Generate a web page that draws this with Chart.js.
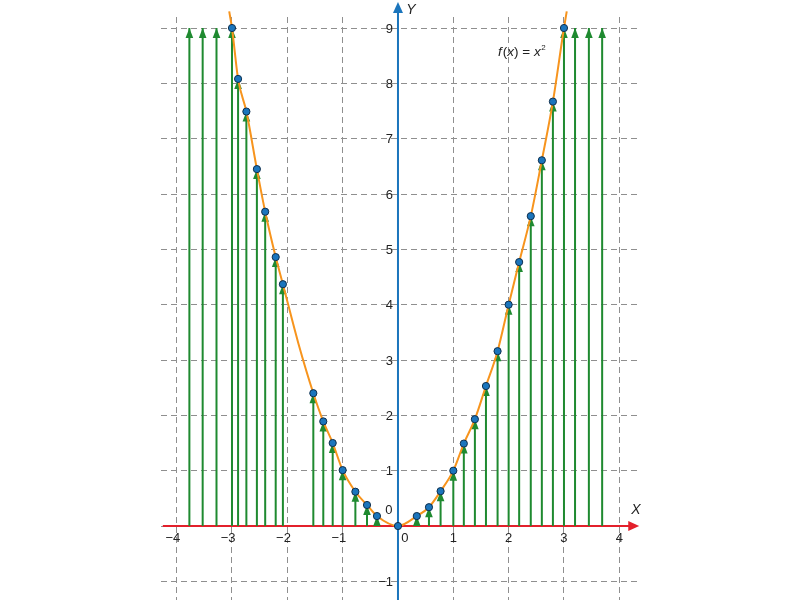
<!DOCTYPE html>
<html>
<head>
<meta charset="utf-8">
<script src="https://cdn.jsdelivr.net/npm/chart.js@4.4.1/dist/chart.umd.min.js"></script>
<style>
  html, body { margin: 0; background: #fff; }
</style>
</head>
<body>
<canvas id="chart" width="800" height="600"></canvas>
<script>
// tick labels
const xTickValues = [-4, -3, -2, -1, 1, 2, 3, 4];
const yTickValues = [-1, 1, 2, 3, 4, 5, 6, 7, 8, 9];

// blue points on the curve
const dotX = [-3, -2.89, -2.74, -2.55, -2.40, -2.21, -2.08, -1.53, -1.35, -1.18, -1.0, -0.77, -0.56, -0.38, 0,
              0.34, 0.56, 0.77, 1.0, 1.19, 1.39, 1.59, 1.80, 2.0, 2.19, 2.40, 2.60, 2.80, 3.0];
const dotY = [9.0, 8.08, 7.49, 6.45, 5.68, 4.86, 4.37, 2.40, 1.89, 1.50, 1.01, 0.62, 0.38, 0.18, 0,
              0.18, 0.34, 0.63, 1.0, 1.49, 1.93, 2.53, 3.16, 4.0, 4.77, 5.60, 6.61, 7.67, 9.0];

// orange curve f(x) = x^2
const curveX = [-3.05, -3, -2.89, -2.74, -2.55, -2.40, -2.21, -2.08, -1.80, -1.53, -1.35, -1.18, -1.0, -0.77, -0.56, -0.38, 0,
                0.34, 0.56, 0.77, 1.0, 1.19, 1.39, 1.59, 1.80, 2.0, 2.19, 2.40, 2.60, 2.80, 3.0, 3.05];
const curveY = [9.3, 9.0, 8.08, 7.49, 6.45, 5.68, 4.86, 4.37, 3.30, 2.40, 1.89, 1.50, 1.01, 0.62, 0.38, 0.18, 0,
                0.18, 0.34, 0.63, 1.0, 1.49, 1.93, 2.53, 3.16, 4.0, 4.77, 5.60, 6.61, 7.67, 9.0, 9.3];

// green arrows: x position and top value
const arrowX = [-3.77, -3.53, -3.28, -3, -2.89, -2.74, -2.55, -2.40, -2.21, -2.08, -1.53, -1.35, -1.18, -1.0, -0.77, -0.56, -0.38,
                0.34, 0.56, 0.77, 1.0, 1.19, 1.39, 1.59, 1.80, 2.0, 2.19, 2.40, 2.60, 2.80, 3.0, 3.2, 3.45, 3.69];
const arrowTop = [9, 9, 9, 9.0, 8.08, 7.49, 6.45, 5.68, 4.86, 4.37, 2.40, 1.89, 1.50, 1.01, 0.62, 0.38, 0.18,
                  0.18, 0.34, 0.63, 1.0, 1.49, 1.93, 2.53, 3.16, 4.0, 4.77, 5.60, 6.61, 7.67, 9.0, 9, 9, 9];

const GREEN = '#1f8a30';
const ORANGE = '#f7941d';
const RED = '#e3202b';
const BLUE = '#1b75bc';
const FONT = '"Liberation Sans", Arial, sans-serif';

const shafts = [];
arrowX.forEach((x, i) => {
    shafts.push({ x: x, y: 0 }, { x: x, y: arrowTop[i] }, { x: x, y: null });
});

const axesPlugin = {
    id: 'axesPlugin',
    beforeDatasetsDraw(chart) {
        const { ctx, scales: { x, y } } = chart;
        const x0 = x.getPixelForValue(0);
        const y0 = y.getPixelForValue(0);
        ctx.save();
        // x axis (red)
        ctx.strokeStyle = RED;
        ctx.fillStyle = RED;
        ctx.lineWidth = 2;
        ctx.beginPath();
        ctx.moveTo(x.getPixelForValue(-4.25), y0);
        ctx.lineTo(x.getPixelForValue(4.2), y0);
        ctx.stroke();
        const xr = x.getPixelForValue(4.36);
        ctx.beginPath();
        ctx.moveTo(xr, y0);
        ctx.lineTo(xr - 11, y0 - 5);
        ctx.lineTo(xr - 11, y0 + 5);
        ctx.closePath();
        ctx.fill();
        // y axis (blue)
        ctx.strokeStyle = BLUE;
        ctx.fillStyle = BLUE;
        ctx.beginPath();
        ctx.moveTo(x0, chart.height);
        ctx.lineTo(x0, 10);
        ctx.stroke();
        ctx.beginPath();
        ctx.moveTo(x0, 2);
        ctx.lineTo(x0 - 5, 13);
        ctx.lineTo(x0 + 5, 13);
        ctx.closePath();
        ctx.fill();
        ctx.restore();
    },
    afterDatasetDraw(chart, args) {
        if (args.index !== 2) return;
        const { ctx, scales: { x, y } } = chart;
        ctx.save();
        ctx.fillStyle = GREEN;
        arrowX.forEach((v, i) => {
            const px = x.getPixelForValue(v);
            const py = y.getPixelForValue(arrowTop[i]);
            ctx.beginPath();
            ctx.moveTo(px, py);
            ctx.lineTo(px - 3.8, py + 10);
            ctx.lineTo(px + 3.8, py + 10);
            ctx.closePath();
            ctx.fill();
        });
        ctx.restore();
    },
    afterDraw(chart) {
        const { ctx, scales: { x, y } } = chart;
        const x0 = x.getPixelForValue(0);
        const y0 = y.getPixelForValue(0);
        ctx.save();
        ctx.fillStyle = '#222';
        ctx.font = '13px ' + FONT;
        ctx.textBaseline = 'middle';
        const digitW = ctx.measureText('0').width;
        ctx.textAlign = 'right';
        xTickValues.forEach(v => {
            const label = v < 0 ? '\u2212' + Math.abs(v) : String(v);
            ctx.fillText(label, x.getPixelForValue(v) + digitW / 2, y0 + 12);
        });
        yTickValues.forEach(v => {
            const label = v < 0 ? '\u2212' + Math.abs(v) : String(v);
            ctx.fillText(label, x0 - 5, y.getPixelForValue(v) + 1);
        });
        ctx.textAlign = 'center';
        ctx.fillText('0', x0 - 9, y0 - 16);
        ctx.fillText('0', x0 + 7, y0 + 12);

        // axis names
        ctx.font = 'italic 14px ' + FONT;
        ctx.fillText('X', x.getPixelForValue(4.3), y0 - 16);
        ctx.fillText('Y', x0 + 13, 10);

        // formula
        ctx.textAlign = 'left';
        ctx.textBaseline = 'alphabetic';
        let cx = 498;
        const by = 56;
        const parts = [['italic 13.5px', 'f'], ['13.5px', '('], ['italic 13.5px', 'x'], ['13.5px', ') = '], ['italic 13.5px', 'x']];
        parts.forEach(([f, t]) => {
            ctx.font = f + ' ' + FONT;
            ctx.fillText(t, cx, by);
            cx += ctx.measureText(t).width + (t === 'f' ? 1 : 0);
        });
        ctx.font = '8px ' + FONT;
        ctx.fillText('2', cx + 0.5, by - 6);
        ctx.restore();
    }
};

const ctx = document.getElementById('chart').getContext('2d');
new Chart(ctx, {
    type: 'scatter',
    data: {
        datasets: [
            {
                label: 'points',
                data: dotX.map((x, i) => ({ x: x, y: dotY[i] })),
                backgroundColor: BLUE,
                borderColor: '#0f2f4d',
                borderWidth: 1,
                pointRadius: 3.6,
                order: 0
            },
            {
                label: 'f(x) = x^2',
                type: 'line',
                data: curveX.map((x, i) => ({ x: x, y: curveY[i] })),
                borderColor: ORANGE,
                borderWidth: 2,
                pointRadius: 0,
                cubicInterpolationMode: 'monotone',
                fill: false,
                clip: false,
                order: 1
            },
            {
                label: 'arrows',
                type: 'line',
                data: shafts,
                borderColor: GREEN,
                borderWidth: 2,
                pointRadius: 0,
                spanGaps: false,
                fill: false,
                order: 2
            }
        ]
    },
    options: {
        responsive: false,
        animation: false,
        layout: { autoPadding: false, padding: { left: 161, right: 160, top: 17, bottom: 0 } },
        plugins: { legend: { display: false }, tooltip: { enabled: false } },
        scales: {
            x: {
                type: 'linear',
                min: -4.283,
                max: 4.374,
                ticks: { display: false, stepSize: 1, includeBounds: false },
                grid: { color: '#8f8f8f', lineWidth: 1, drawTicks: false },
                border: { display: false, dash: [6, 4] },
                afterFit(scale) { scale.height = 0; }
            },
            y: {
                type: 'linear',
                min: -1.337,
                max: 9.199,
                ticks: { display: false, stepSize: 1, includeBounds: false },
                grid: { color: '#8f8f8f', lineWidth: 1, drawTicks: false },
                border: { display: false, dash: [6, 4] },
                afterFit(scale) { scale.width = 0; }
            }
        }
    },
    plugins: [axesPlugin]
});
</script>
</body>
</html>
